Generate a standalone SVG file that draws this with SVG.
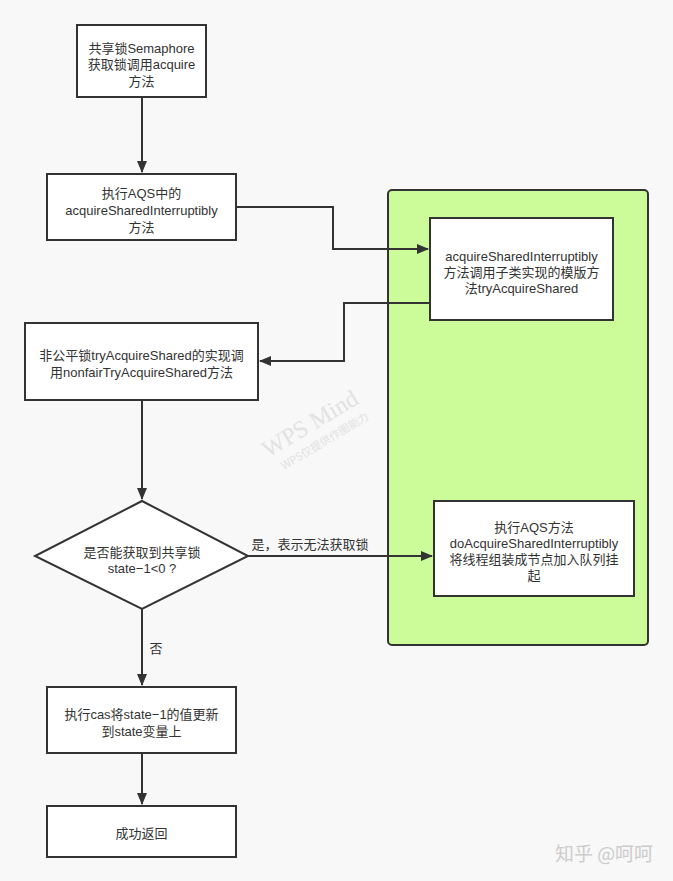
<svg xmlns="http://www.w3.org/2000/svg" width="673" height="881" viewBox="0 0 673 881">
<style>
.box{fill:#fff;stroke:#333;stroke-width:2}
.t{font-family:"Liberation Sans","Noto Sans CJK SC",sans-serif;font-size:13px;fill:#333;text-anchor:middle;dominant-baseline:central}
.c{fill:none;stroke:#333;stroke-width:2}
</style>
<defs>
<marker id="ah" markerWidth="12" markerHeight="10" refX="11" refY="5" orient="auto" markerUnits="userSpaceOnUse">
<path d="M0,0 L12,5 L0,10 z" fill="#333"/>
</marker>
</defs>
<rect width="673" height="881" fill="#f8f8f8"/>
<g id="group-green">
<rect x="388" y="190" width="260" height="455" rx="4" fill="#ccfc9a" stroke="#333" stroke-width="2"/>
</g>
<g id="watermark" font-family="Liberation Serif,serif" fill="#e2e2e2">
<text x="268" y="458" font-size="24" transform="rotate(-31 268 458)">WPS Mind</text>
<text x="284" y="470" font-size="11" font-family="Noto Sans CJK SC,sans-serif" transform="rotate(-31 284 470)">WPS仅提供作图能力</text>
</g>
<g id="connectors">
<path class="c" d="M142,97 V172" marker-end="url(#ah)"/>
<path class="c" d="M236,207 H333 V249 H428" marker-end="url(#ah)"/>
<path class="c" d="M430,303 H344 V361 H260" marker-end="url(#ah)"/>
<path class="c" d="M142,400 V499" marker-end="url(#ah)"/>
<path class="c" d="M248,556 H432" marker-end="url(#ah)"/>
<path class="c" d="M142,609 V685" marker-end="url(#ah)"/>
<path class="c" d="M142,753 V804" marker-end="url(#ah)"/>
<text class="t" x="310" y="544">是，表示无法获取锁</text>
<text class="t" x="156" y="648">否</text>
</g>
<g id="n1">
<rect class="box" x="77" y="25" width="129" height="72"/>
<text class="t" x="141.5" y="48">共享锁Semaphore</text>
<text class="t" x="141.5" y="64.5">获取锁调用acquire</text>
<text class="t" x="141.5" y="81">方法</text>
</g>
<g id="n2">
<rect class="box" x="47" y="174" width="189" height="66"/>
<text class="t" x="141.5" y="193">执行AQS中的</text>
<text class="t" x="141.5" y="210">acquireSharedInterruptibly</text>
<text class="t" x="141.5" y="227">方法</text>
</g>
<g id="n3">
<rect class="box" x="430" y="218" width="183" height="102"/>
<text class="t" x="521.5" y="256">acquireSharedInterruptibly</text>
<text class="t" x="521.5" y="272">方法调用子类实现的模版方</text>
<text class="t" x="521.5" y="288">法tryAcquireShared</text>
</g>
<g id="n4">
<rect class="box" x="25" y="323" width="233" height="77"/>
<text class="t" x="141.5" y="355">非公平锁tryAcquireShared的实现调</text>
<text class="t" x="141.5" y="372">用nonfairTryAcquireShared方法</text>
</g>
<g id="n5">
<path class="box" d="M142,501 L248,556 L142,609 L35,556 z"/>
<text class="t" x="142" y="552">是否能获取到共享锁</text>
<text class="t" x="142" y="568">state−1&lt;0 ?</text>
</g>
<g id="n6">
<rect class="box" x="434" y="501" width="200" height="95"/>
<text class="t" x="534" y="527">执行AQS方法</text>
<text class="t" x="534" y="543">doAcquireSharedInterruptibly</text>
<text class="t" x="534" y="559">将线程组装成节点加入队列挂</text>
<text class="t" x="534" y="575">起</text>
</g>
<g id="n7">
<rect class="box" x="47" y="687" width="189" height="66"/>
<text class="t" x="141.5" y="714">执行cas将state−1的值更新</text>
<text class="t" x="141.5" y="731">到state变量上</text>
</g>
<g id="n8">
<rect class="box" x="47" y="806" width="189" height="51"/>
<text class="t" x="141.5" y="833">成功返回</text>
</g>
<text x="604" y="861" font-family="Noto Sans CJK SC,sans-serif" font-size="19" fill="#ccc" text-anchor="middle">知乎 @呵呵</text>
</svg>
